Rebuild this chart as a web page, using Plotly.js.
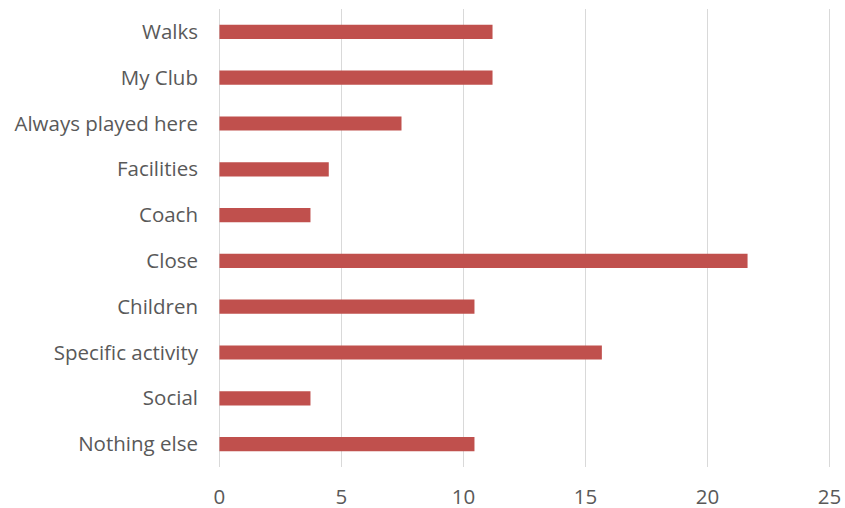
<!DOCTYPE html>
<html>
<head>
<meta charset="utf-8">
<script src="https://cdn.plot.ly/plotly-3.0.1.min.js"></script>
<style>html,body{margin:0;padding:0;background:#fff;}#chart{width:845px;height:508px;}</style>
</head>
<body>
<div id="chart"></div>
<script>
const categories = ["Walks", "My Club", "Always played here", "Facilities", "Coach", "Close", "Children", "Specific activity", "Social", "Nothing else"];
const values = [11.19, 11.19, 7.46, 4.48, 3.73, 21.64, 10.45, 15.67, 3.73, 10.45];
const xTicks = [0, 5, 10, 15, 20, 25];

const trace = {
  type: "bar",
  orientation: "h",
  y: categories,
  x: values,
  marker: {color: "#c0504d"},
  hoverinfo: "x+y"
};

const layout = {
  width: 845,
  height: 508,
  margin: {l: 217, r: 13, t: 9, b: 41},
  paper_bgcolor: "#ffffff",
  plot_bgcolor: "#ffffff",
  bargap: 0.69,
  showlegend: false,
  font: {family: "Open Sans, sans-serif", size: 20.5, color: "#595959"},
  xaxis: {
    range: [-0.1, 25.1],
    tickvals: xTicks,
    ticktext: xTicks.map(String),
    showgrid: true,
    gridcolor: "#d9d9d9",
    gridwidth: 1.5,
    zeroline: false,
    showline: false,
    ticks: "",
    ticklabelstandoff: 15,
    fixedrange: true
  },
  yaxis: {
    autorange: "reversed",
    showgrid: false,
    zeroline: false,
    showline: false,
    ticks: "",
    ticklabelstandoff: 18,
    fixedrange: true
  }
};

Plotly.newPlot("chart", [trace], layout, {displayModeBar: false, staticPlot: true});
</script>
</body>
</html>
